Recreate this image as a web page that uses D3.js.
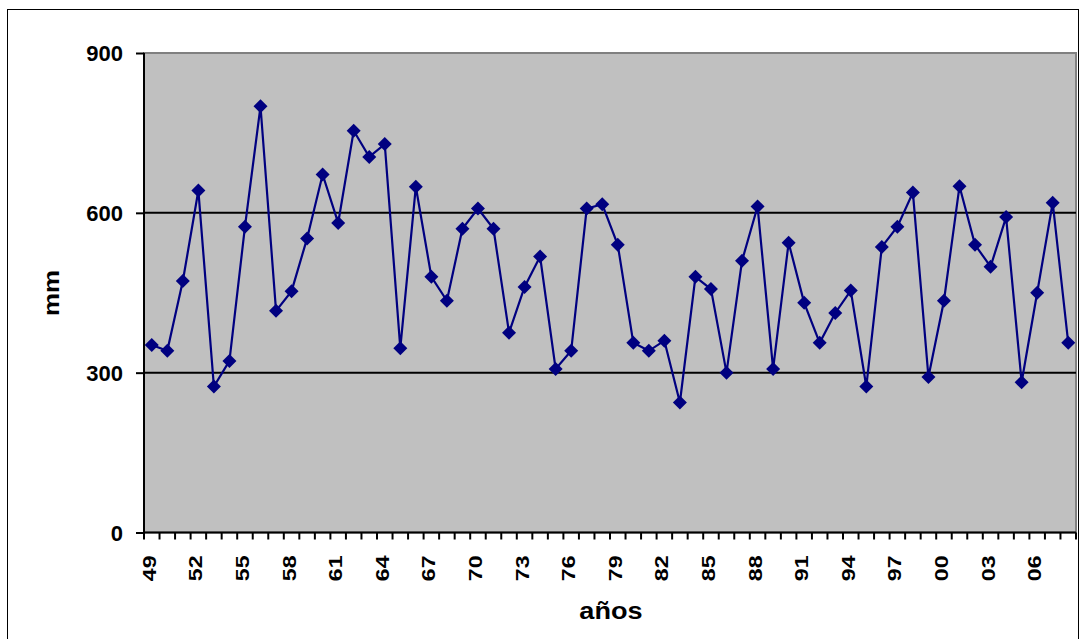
<!DOCTYPE html>
<html>
<head>
<meta charset="utf-8">
<script src="https://cdn.jsdelivr.net/npm/d3@7"></script>
<style>
  body { margin: 0; background: #fff; }
  text { font-family: "Liberation Sans", Arial, sans-serif; font-weight: bold; fill: #000; }
</style>
</head>
<body>
<div id="chart"></div>
<script>
var width = 1082,
    height = 639;

// años 1949 - 2008
var years = d3.range(1949, 2009);

// precipitación anual (mm)
var rain = [352, 341, 472, 642, 274, 322, 574, 800, 416, 453,
            552, 672, 581, 754, 705, 729, 346, 649, 480, 435,
            570, 608, 570, 375, 461, 518, 307, 341, 608, 616,
            540, 356, 341, 360, 244, 480, 457, 300, 510, 612,
            307, 544, 431, 356, 412, 454, 274, 536, 574, 638,
            292, 435, 650, 540, 499, 592, 282, 450, 619, 356];

var yTicks = [0, 300, 600, 900];
var gridValues = [300, 600];

var margin = {top: 53, right: 6, bottom: 107, left: 144};
var plotW = 1076 - margin.left,
    plotH = 532.5 - margin.top;

var svg = d3.select("#chart")
    .append("svg")
    .attr("width", width)
    .attr("height", height);

// marco exterior
svg.append("rect")
    .attr("x", 7.5)
    .attr("y", 9.5)
    .attr("width", 1071)
    .attr("height", 640)
    .attr("fill", "none")
    .attr("stroke", "#000")
    .attr("stroke-width", 1);

var g = svg.append("g")
    .attr("transform", "translate(" + margin.left + "," + margin.top + ")");

var x = d3.scaleBand()
    .domain(years)
    .range([0, plotW]);

var y = d3.scaleLinear()
    .domain([0, 900])
    .range([plotH, 0]);

// fondo del área de trazado
g.append("rect")
    .attr("width", plotW)
    .attr("height", plotH)
    .attr("fill", "#c0c0c0")
    .attr("stroke", "#808080")
    .attr("stroke-width", 2);

// líneas de división
g.selectAll(".grid")
    .data(gridValues)
    .enter()
    .append("line")
    .attr("x1", 0)
    .attr("x2", plotW)
    .attr("y1", d => y(d))
    .attr("y2", d => y(d))
    .attr("stroke", "#000")
    .attr("stroke-width", 2);

// eje Y
var yAxis = g.append("g")
    .call(d3.axisLeft(y).tickValues(yTicks).tickSize(8).tickPadding(13));
yAxis.select(".domain").attr("stroke-width", 2).attr("d", "M0," + plotH + "V0");
yAxis.selectAll(".tick line").attr("stroke-width", 2);
yAxis.selectAll(".tick text")
    .style("font-size", "22px")
    .attr("dy", "0.36em");

// eje X
var xAxis = g.append("g")
    .attr("transform", "translate(0," + plotH + ")")
    .call(d3.axisBottom(x).tickSize(0).tickFormat(""));
xAxis.select(".domain").attr("stroke-width", 2).attr("d", "M0,0H" + plotW);

g.append("g")
    .selectAll("line")
    .data(years.concat([years[years.length - 1] + 1]))
    .enter()
    .append("line")
    .attr("x1", (d, i) => i * x.step())
    .attr("x2", (d, i) => i * x.step())
    .attr("y1", plotH)
    .attr("y2", plotH + 7)
    .attr("stroke", "#000")
    .attr("stroke-width", 2);

g.append("g")
    .selectAll("text")
    .data(years.filter((d, i) => i % 3 === 0))
    .enter()
    .append("text")
    .attr("transform", d => "translate(" + (x(d) + x.bandwidth() / 2 + 4) + "," + (plotH + 23) + ") rotate(-90) scale(1.25,1)")
    .attr("text-anchor", "end")
    .style("font-size", "18.5px")
    .text(d => String(d % 100).padStart(2, "0"));

// línea de la serie
var line = d3.line()
    .x((d, i) => x(years[i]) + x.bandwidth() / 2)
    .y(d => y(d));

g.append("path")
    .datum(rain)
    .attr("d", line)
    .attr("fill", "none")
    .attr("stroke", "#000080")
    .attr("stroke-width", 2.2);

g.selectAll(".mark")
    .data(rain)
    .enter()
    .append("path")
    .attr("d", d3.symbol().type(d3.symbolDiamond2).size(125))
    .attr("transform", (d, i) => "translate(" + (x(years[i]) + x.bandwidth() / 2) + "," + y(d) + ")")
    .attr("fill", "#000080");

// títulos de ejes
svg.append("text")
    .attr("transform", "translate(611,619) scale(1.13,1)")
    .attr("text-anchor", "middle")
    .style("font-size", "24px")
    .text("años");

svg.append("text")
    .attr("transform", "translate(59,293) rotate(-90) scale(1.15,1)")
    .attr("text-anchor", "middle")
    .style("font-size", "22.5px")
    .text("mm");
</script>
</body>
</html>
